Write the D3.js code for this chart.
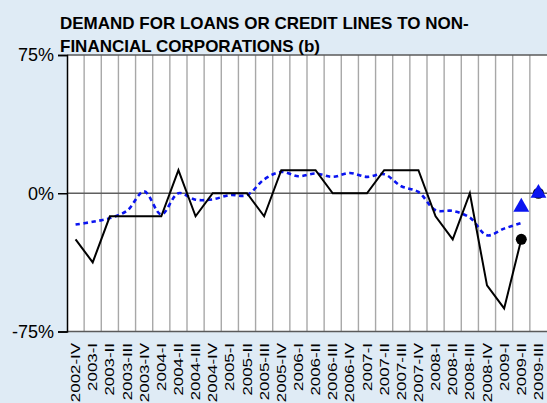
<!DOCTYPE html>
<html>
<head>
<meta charset="utf-8">
<script src="https://cdn.jsdelivr.net/npm/d3@7"></script>
<style>
  html, body { margin: 0; padding: 0; background: #dfebf5; }
  svg { display: block; }
  text { font-family: "Liberation Sans", Arial, sans-serif; }
</style>
</head>
<body>
<svg id="chart" width="547" height="403"></svg>
<script>
const quarters = ["2002-IV","2003-I","2003-II","2003-III","2003-IV","2004-I","2004-II","2004-III","2004-IV",
  "2005-I","2005-II","2005-III","2005-IV","2006-I","2006-II","2006-III","2006-IV","2007-I","2007-II",
  "2007-III","2007-IV","2008-I","2008-II","2008-III","2008-IV","2009-I","2009-II","2009-III"];
const spain = [-25, -37.5, -12.5, -12.5, -12.5, -12.5, 12.5, -12.5, 0, 0, 0, -12.5, 12.5, 12.5, 12.5,
  0, 0, 0, 12.5, 12.5, 12.5, -12.5, -25, 0, -50, -62.5, -25, null];
const euroArea = [-17, -15.5, -13.5, -9.5, 1, -11.5, 0, -3.5, -3.3, -1, -1, 7.5, 11.6, 9.2, 10.7,
  8.9, 11, 8.9, 10.3, 3.8, 0.7, -9.2, -9.6, -13.2, -22.8, -19.2, -16.1, null];
const spainExpected = [null, null, null, null, null, null, null, null, null, null, null, null, null, null,
  null, null, null, null, null, null, null, null, null, null, null, null, -25, 0];
const euroExpected = [null, null, null, null, null, null, null, null, null, null, null, null, null, null,
  null, null, null, null, null, null, null, null, null, null, null, null, -7.5, 0];
const yTicks = [-75, 0, 75];
const titleLines = ["DEMAND FOR LOANS OR CREDIT LINES TO NON-", "FINANCIAL CORPORATIONS (b)"];

(function () {
const svg = d3.select("#chart");
const pL = 67, pR = 547, pT = 55, pB = 331.5;

const x = d3.scaleBand().domain(quarters).range([pL, pR]).padding(0);
const y = d3.scaleLinear().domain([-75, 75]).range([pB, pT]);

// plot background
svg.append("rect").attr("x", pL).attr("y", pT).attr("width", pR - pL).attr("height", pB - pT)
  .attr("fill", "#ffffff");

// vertical grid lines at band boundaries
const bounds = quarters.slice(1).map(q => x(q));
svg.append("g").selectAll("line").data(bounds).join("line")
  .attr("x1", d => d).attr("x2", d => d).attr("y1", pT).attr("y2", pB)
  .attr("stroke", "#a8a8a8").attr("stroke-width", 1.4);

// top & bottom frame
svg.append("line").attr("x1", pL).attr("x2", pR).attr("y1", pT).attr("y2", pT)
  .attr("stroke", "#5a5a5a").attr("stroke-width", 1.5);
svg.append("line").attr("x1", pL).attr("x2", pR).attr("y1", pB).attr("y2", pB)
  .attr("stroke", "#5a5a5a").attr("stroke-width", 1.5);

// zero line
svg.append("line").attr("x1", pL).attr("x2", pR).attr("y1", y(0)).attr("y2", y(0))
  .attr("stroke", "#5f5f5f").attr("stroke-width", 1.5);

// y axis
const yAxis = d3.axisLeft(y).tickValues(yTicks).tickSize(9).tickPadding(4).tickFormat(d => d + "%");
const ya = svg.append("g").attr("transform", `translate(${pL},0)`).call(yAxis);
ya.select(".domain").attr("stroke", "#000").attr("stroke-width", 1.5);
ya.selectAll(".tick line").attr("stroke", "#000").attr("stroke-width", 1.5);
ya.selectAll(".tick text").attr("font-size", 18).attr("fill", "#000")
  .attr("font-family", "Liberation Sans, Arial, sans-serif");

// x labels (rotated)
svg.append("g").selectAll("text").data(quarters).join("text")
  .attr("transform", d => `translate(${x(d) + x.bandwidth() / 2 + 4.6},343) rotate(-90) scale(1.3,1)`)
  .attr("text-anchor", "end")
  .attr("font-size", 13)
  .attr("fill", "#000")
  .text(d => d);

// euro area dotted smooth line
const idx = d3.range(quarters.length);
const cx = i => x(quarters[i]) + x.bandwidth() / 2;
const euroLine = d3.line().defined(i => euroArea[i] !== null)
  .x(i => cx(i)).y(i => y(euroArea[i])).curve(d3.curveCatmullRom.alpha(0.5));
svg.append("path").attr("d", euroLine(idx)).attr("fill", "none")
  .attr("stroke", "#0a14f0").attr("stroke-width", 2.6).attr("stroke-dasharray", "4.5,3.5");

// spain solid line
const spainLine = d3.line().defined(i => spain[i] !== null)
  .x(i => cx(i)).y(i => y(spain[i]));
svg.append("path").attr("d", spainLine(idx)).attr("fill", "none")
  .attr("stroke", "#000").attr("stroke-width", 2).attr("stroke-linejoin", "miter");

// spain expected circles
svg.append("g").selectAll("circle").data(idx.filter(i => spainExpected[i] !== null)).join("circle")
  .attr("cx", i => cx(i)).attr("cy", i => y(spainExpected[i])).attr("r", 5.5)
  .attr("fill", "#000");

// euro expected triangles (drawn over circles)
const tri = d3.symbol().type(d3.symbolTriangle).size(110);
svg.append("g").selectAll("path").data(idx.filter(i => euroExpected[i] !== null)).join("path")
  .attr("d", tri)
  .attr("transform", i => `translate(${cx(i)},${y(euroExpected[i])})`)
  .attr("fill", "#0a14f0");

// title
svg.append("g").selectAll("text").data(titleLines).join("text")
  .attr("x", 60).attr("y", (d, i) => 28.5 + i * 23.5)
  .attr("font-size", 17).attr("font-weight", "bold").attr("fill", "#000")
  .text(d => d);
})();
</script>
</body>
</html>
